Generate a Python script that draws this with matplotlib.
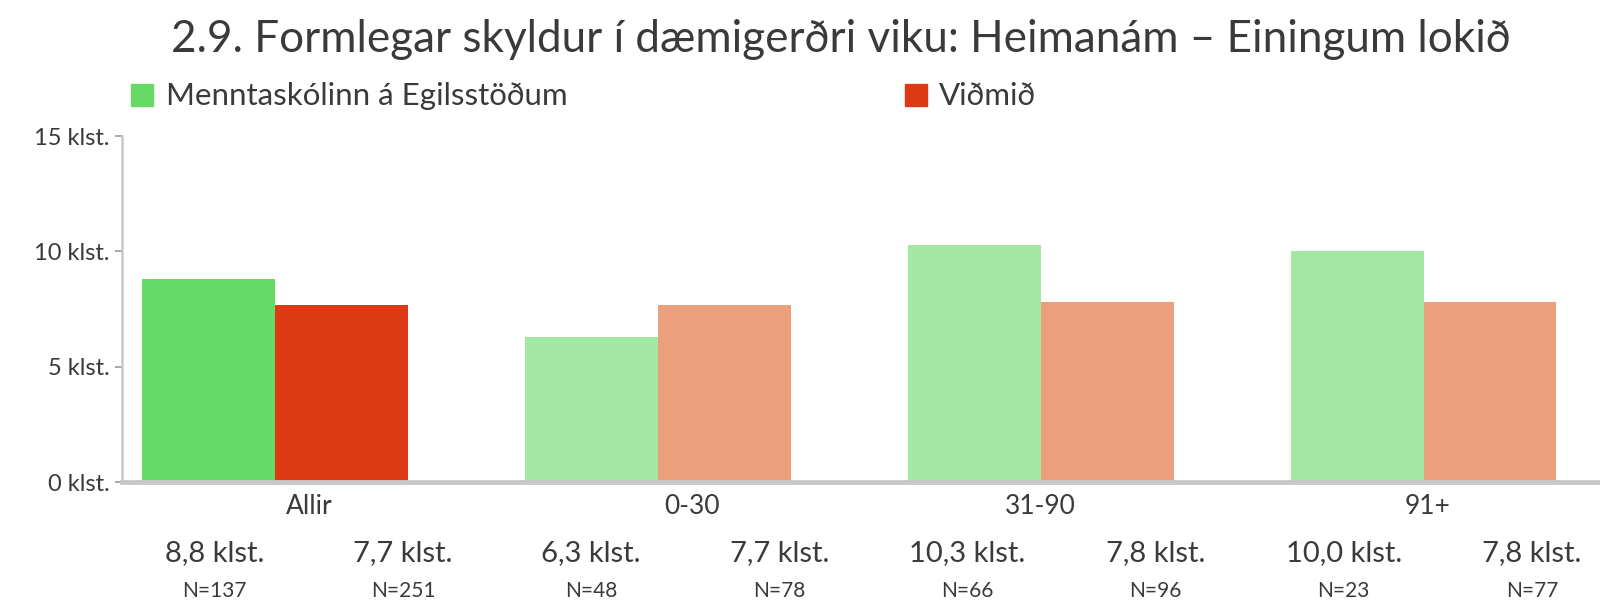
import numpy as np
import matplotlib
matplotlib.use("Agg")
import matplotlib.pyplot as plt

# ---------------------------------------------------------------------------
# Gögn
# ---------------------------------------------------------------------------
categories = ["Allir", "0-30", "31-90", "91+"]
school_vals = [8.8, 6.3, 10.3, 10.0]
ref_vals = [7.7, 7.7, 7.8, 7.8]
school_n = [137, 48, 66, 23]
ref_n = [251, 78, 96, 77]

series_names = ["Menntaskólinn á Egilsstöðum", "Viðmið"]
yticks = [0, 5, 10, 15]

# litir: fyrsti hópur sterkur, hinir ljósir
GREEN = "#66D966"
RED = "#DC3914"
GREEN_LIGHT = "#A3E8A3"
RED_LIGHT = "#EC9F7C"
TEXT = "#3a3a3a"
AXIS = "#c8c8c8"

plt.rcParams["font.family"] = ["Lato", "DejaVu Sans"]

fig = plt.figure(figsize=(16, 6.02), dpi=100)
ax = fig.add_axes([0.0763, 0.199, 0.9237, 0.575])

x = np.arange(len(categories))
w = 0.347
green_cols = [GREEN] + [GREEN_LIGHT] * (len(categories) - 1)
red_cols = [RED] + [RED_LIGHT] * (len(categories) - 1)
ax.bar(x - w / 2, school_vals, width=w, color=green_cols, linewidth=0, zorder=2)
ax.bar(x + w / 2, ref_vals, width=w, color=red_cols, linewidth=0, zorder=2)

ax.set_xlim(-0.40, 3.461)
ax.set_ylim(0, 15)
ax.set_yticks(yticks)
ax.set_yticklabels([f"{v} klst." for v in yticks], fontsize=17, color=TEXT)
ax.tick_params(axis="y", length=5, width=1.2, color="#9a9a9a", pad=4)
ax.set_xticks([])

for s in ["top", "right"]:
    ax.spines[s].set_visible(False)
ax.spines["left"].set_color(AXIS)
ax.spines["left"].set_linewidth(1.8)
ax.spines["bottom"].set_color(AXIS)
ax.spines["bottom"].set_linewidth(3.5)

# flokkaheiti
cat_offsets = [0.09, 0.09, 0.0, 0.01]
for xi, lab, off in zip(x, categories, cat_offsets):
    ax.text(xi + off, -1.06, lab, ha="center", va="center", fontsize=19,
            color=TEXT, clip_on=False)

# gildi og N undir ásnum, jafnt dreift
vals = [v for pair in zip(school_vals, ref_vals) for v in pair]
ns = [n for pair in zip(school_n, ref_n) for n in pair]
for i, (v, n) in enumerate(zip(vals, ns)):
    xp = -0.158 + i * 0.4916
    ax.text(xp, -3.06, f"{v:.1f}".replace(".", ",") + " klst.", ha="center",
            va="center", fontsize=21, color=TEXT, clip_on=False)
    ax.text(xp, -4.73, f"N={n}", ha="center", va="center", fontsize=15,
            color=TEXT, clip_on=False)

# titill
fig.text(0.107, 1 - 39 / 602,
         "2.9. Formlegar skyldur í dæmigerðri viku: Heimanám – Einingum lokið",
         ha="left", va="center", fontsize=31.7, color=TEXT)

# skýringar
fig.patches.append(plt.Rectangle((131 / 1600, 1 - 106 / 602), 22 / 1600, 22 / 602,
                                 transform=fig.transFigure, color=GREEN))
fig.text(166 / 1600, 1 - 96 / 602, series_names[0], ha="left", va="center",
         fontsize=22.5, color=TEXT)
fig.patches.append(plt.Rectangle((905 / 1600, 1 - 106 / 602), 22 / 1600, 22 / 602,
                                 transform=fig.transFigure, color=RED))
fig.text(939 / 1600, 1 - 96 / 602, series_names[1], ha="left", va="center",
         fontsize=22.5, color=TEXT)

fig.savefig("out.png", dpi=100)
